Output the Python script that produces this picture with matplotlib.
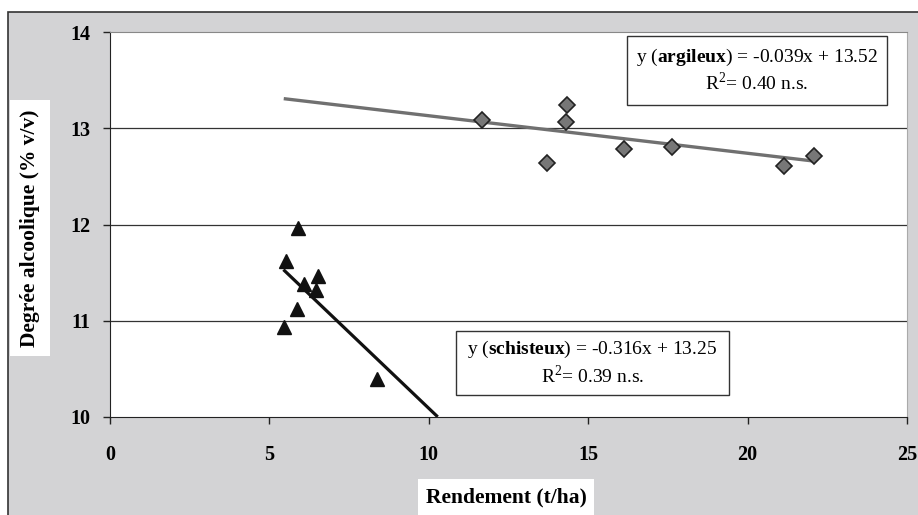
import numpy as np
import matplotlib
matplotlib.use("Agg")
import matplotlib.pyplot as plt
from matplotlib.patches import Rectangle

plt.rcParams['font.family'] = 'Liberation Serif'
plt.rcParams['mathtext.fontset'] = 'custom'
plt.rcParams['mathtext.rm'] = 'Liberation Serif'
plt.rcParams['mathtext.bf'] = 'Liberation Serif:bold'

# argileux (diamonds)
arg_x = [11.68, 13.72, 14.35, 14.29, 16.12, 17.64, 21.14, 22.08]
arg_y = [13.09, 12.64, 13.24, 13.06, 12.78, 12.81, 12.61, 12.71]
arg_slope, arg_icpt = -0.039, 13.52
arg_fit_x = [5.45, 22.08]

# schisteux (triangles)
sch_x = [5.90, 5.52, 6.51, 6.07, 6.46, 5.86, 5.46, 8.36]
sch_y = [11.96, 11.62, 11.47, 11.38, 11.32, 11.12, 10.93, 10.40]
sch_slope, sch_icpt = -0.316, 13.25
sch_fit_x = [5.44, 10.28]

xticks = [0, 5, 10, 15, 20, 25]
yticks = [10, 11, 12, 13, 14]

W, H = 918, 515
fig = plt.figure(figsize=(W / 100, H / 100), dpi=100)
fig.patch.set_facecolor('white')

# grey chart area with dark border (top/left visible)
bg = Rectangle((8 / W, -0.1), 1.2, 1.1 - 12 / H, transform=fig.transFigure,
               facecolor='#d3d3d5', edgecolor='#333333', linewidth=1.2, zorder=-5)
fig.patches.append(bg)

ax = fig.add_axes([110 / W, 1 - 417 / H, (907 - 110) / W, (417 - 32) / H])
ax.set_facecolor('white')
ax.set_xlim(0, 25)
ax.set_ylim(10, 14)
ax.set_xticks(xticks)
ax.set_yticks(yticks)
ax.set_xticklabels([str(t) for t in xticks], fontsize=14.5, fontweight='bold')
ax.set_yticklabels([str(t) for t in yticks], fontsize=14.5, fontweight='bold')
ax.tick_params(direction='out', length=5, width=1, color='#222222', pad=15)
ax.tick_params(axis='y', pad=9)

for y in [11, 12, 13]:
    ax.axhline(y, color='#333333', linewidth=0.9, zorder=1)

ax.spines['left'].set_color('#222222')
ax.spines['bottom'].set_color('#222222')
ax.spines['top'].set_color('#888888')
ax.spines['right'].set_color('#aaaaaa')

fx = np.array(arg_fit_x)
ax.plot(fx, arg_slope * fx + arg_icpt, color='#707070', linewidth=2.4, zorder=2, solid_capstyle='butt')
fx = np.array(sch_fit_x)
ax.plot(fx, sch_slope * fx + sch_icpt, color='#111111', linewidth=2.3, zorder=2, solid_capstyle='butt')

ax.plot(arg_x, arg_y, linestyle='none', marker='D', markersize=8.5, markerfacecolor='#777777',
        markeredgecolor='#222222', markeredgewidth=1.2, zorder=3)
ax.plot(sch_x, sch_y, linestyle='none', marker='^', markersize=9.5, color='#111111', zorder=3)


def eq_box(x0, x1, y0, y1, text):
    # box given in pixel coords of the reference, converted to axes fraction
    ax0, ax1 = (x0 - 110) / 797, (x1 - 110) / 797
    ay0, ay1 = (417 - y1) / 385, (417 - y0) / 385
    ax.add_patch(Rectangle((ax0, ay0), ax1 - ax0, ay1 - ay0, transform=ax.transAxes,
                           facecolor='white', edgecolor='#333333', linewidth=1, zorder=5))
    ax.text((ax0 + ax1) / 2, (ay0 + ay1) / 2, text, transform=ax.transAxes, ha='center',
            va='center', fontsize=14, linespacing=1.2, zorder=6)


eq_box(627, 887, 36, 105, "y ($\\mathbf{argileux}$) = -0.039x + 13.52\nR$^2$= 0.40 n.s.")
eq_box(456, 729, 331, 395, "y ($\\mathbf{schisteux}$) = -0.316x + 13.25\nR$^2$= 0.39 n.s.")

fig.text(30 / W, 1 - 228 / H, "Degrée alcoolique (% v/v)", rotation=90, ha='center', va='center',
         fontsize=15.5, fontweight='bold',
         bbox=dict(boxstyle='square,pad=0.45', facecolor='white', edgecolor='none'))
fig.text(506 / W, 1 - 497 / H, "Rendement (t/ha)", ha='center', va='center',
         fontsize=15.5, fontweight='bold',
         bbox=dict(boxstyle='square,pad=0.35', facecolor='white', edgecolor='none'))

fig.savefig('out.png', dpi=100, facecolor='white')
